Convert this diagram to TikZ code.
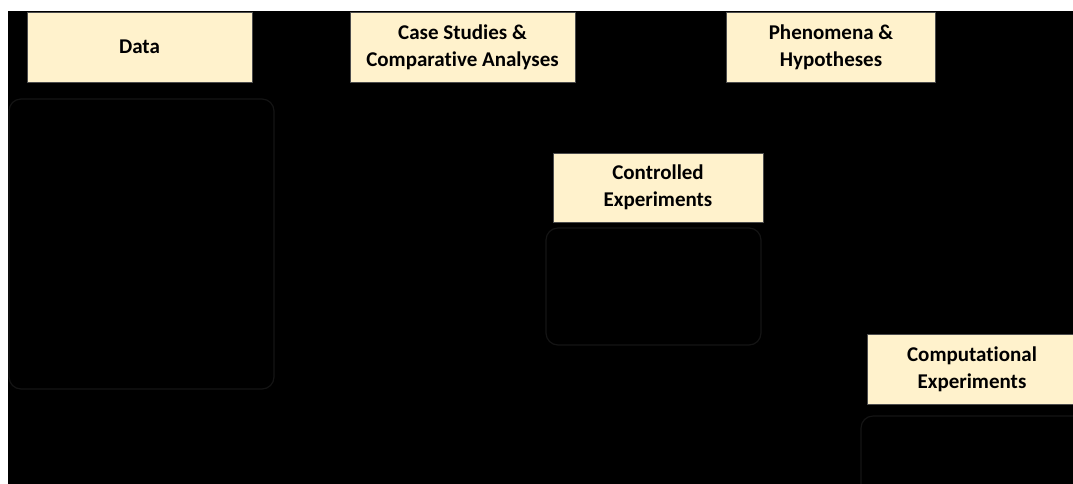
\documentclass[tikz,border=0pt]{standalone}
\usepackage{fontspec}
\setmainfont[Ligatures=NoCommon]{Carlito}
\begin{document}
\begin{tikzpicture}[x=1pt,y=-1pt,
  label box/.style={draw=black!70,line width=0.8pt,fill={rgb,255:red,255;green,242;blue,204},
    font=\bfseries\fontsize{21}{27}\selectfont,align=center,inner sep=0pt},
  group frame/.style={draw={rgb,255:red,20;green,20;blue,20},line width=1.2pt,rounded corners=12pt}]
\useasboundingbox (0,0) rectangle (1073,483);
\clip (0,0) rectangle (1073,483);
\fill[white] (0,0) rectangle (1073,483);
\fill[black] (8,11) rectangle (1080,490);
% group frames
\draw[group frame] (9,99) rectangle (274,389);
\draw[group frame] (546,228) rectangle (761,345);
\draw[group frame] (861,416) rectangle (1100,510);
% label boxes
\node[label box,minimum width=225pt,minimum height=70pt] (data) at (139.5,47) {Data};
\node[label box,minimum width=225pt,minimum height=70pt] (case) at (462.5,47) {Case Studies \&\\Comparative Analyses};
\node[label box,minimum width=209pt,minimum height=70pt] (phen) at (831,47) {Phenomena \&\\Hypotheses};
\node[label box,minimum width=210pt,minimum height=69pt] (ctrl) at (658,187.5) {Controlled\\Experiments};
\node[label box,minimum width=210pt,minimum height=70pt] (comp) at (972,369) {Computational\\Experiments};
\end{tikzpicture}
\end{document}
